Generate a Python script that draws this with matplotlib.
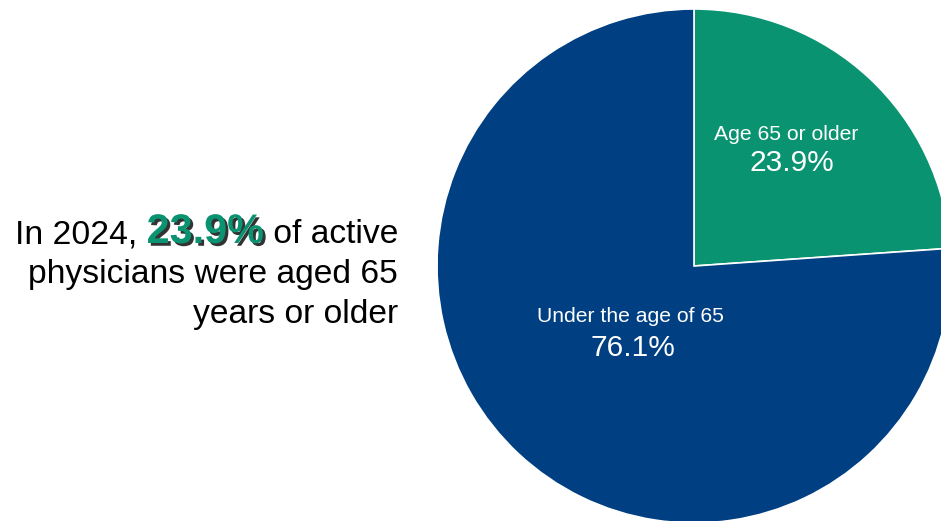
import matplotlib
matplotlib.use("Agg")
import matplotlib.pyplot as plt
import matplotlib.patheffects as pe

categories = ["Age 65 or older", "Under the age of 65"]
values = [23.9, 76.1]
colors = ["#099370", "#003F82"]
headline_year = "2024"
headline_value = "23.9%"

plt.rcParams['font.family'] = ['Liberation Sans', 'DejaVu Sans']

W, H = 941, 521
fig = plt.figure(figsize=(W / 100, H / 100), dpi=100)
ax = fig.add_axes([0, 0, 1, 1])
ax.set_xlim(0, W)
ax.set_ylim(0, H)
ax.set_aspect('equal')
ax.axis('off')

cx, cy, r = 694, H - 266, 257
wedges, _ = ax.pie(values, colors=colors, startangle=90, counterclock=False,
                   center=(cx, cy), radius=r,
                   wedgeprops=dict(edgecolor='white', linewidth=1.2))
ax.set_xlim(0, W)
ax.set_ylim(0, H)

# wedge labels
ax.text(786, H - 134, categories[0], color='white', fontsize=15.2, ha='center', va='center')
ax.text(792, H - 163, f"{values[0]}%", color='white', fontsize=21.5, ha='center', va='center')
ax.text(630, H - 317, categories[1], color='white', fontsize=15.2, ha='center', va='center')
ax.text(633, H - 348, f"{values[1]}%", color='white', fontsize=21.5, ha='center', va='center')

# headline text
fig.canvas.draw()
renderer = fig.canvas.get_renderer()
right_x = 398
fs = 24.2
t1 = ax.text(right_x, H - 243, " of active", fontsize=fs, ha='right', va='baseline', color='black')
bb = t1.get_window_extent(renderer)
t2 = ax.text(bb.x0, H - 243, headline_value, fontsize=29.8, fontweight='bold', ha='right',
             va='baseline', color=colors[0],
             path_effects=[pe.SimplePatchShadow(offset=(2, -2), shadow_rgbFace='#333333', alpha=1.0),
                           pe.Normal()])
bb2 = t2.get_window_extent(renderer)
ax.text(bb2.x0, H - 243, f"In {headline_year}, ", fontsize=fs, ha='right', va='baseline', color='black')
ax.text(right_x, H - 283, "physicians were aged 65", fontsize=fs, ha='right', va='baseline', color='black')
ax.text(right_x, H - 323, "years or older", fontsize=fs, ha='right', va='baseline', color='black')

fig.savefig("out.png", dpi=100)
